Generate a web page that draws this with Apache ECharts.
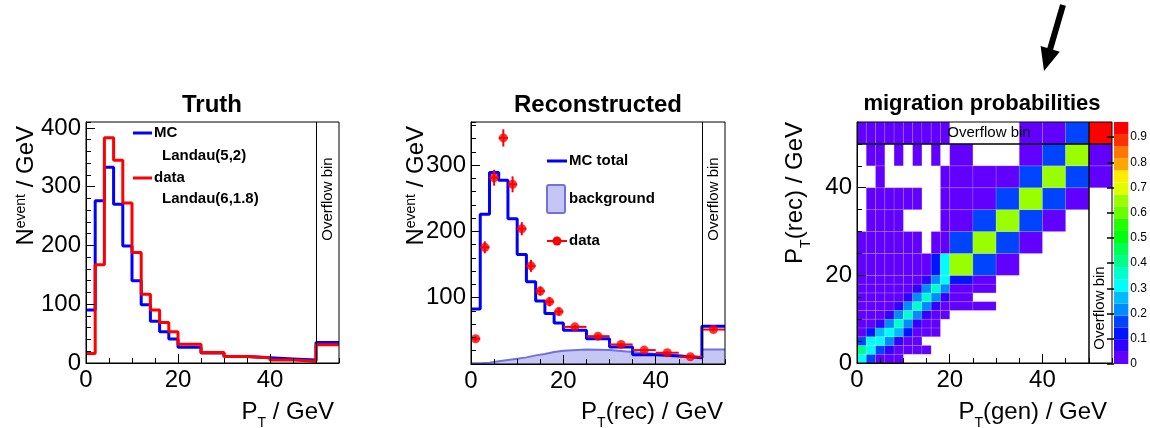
<!DOCTYPE html>
<html>
<head>
<meta charset="utf-8">
<script src="https://cdn.jsdelivr.net/npm/echarts@6/dist/echarts.min.js"></script>
<style>
html, body { margin: 0; padding: 0; background: #fff; }
#main { width: 1150px; height: 428px; }
</style>
</head>
<body>
<div id="main"></div>
<script>
// bin edges in GeV, last bin (50-55) is the overflow bin
var edges = [0, 2, 4, 6, 8, 10, 12, 14, 16, 18, 20, 25, 30, 35, 40, 45, 50, 55];

// Truth panel
var truthMC   = [90, 276, 333, 270, 199, 140, 99, 71, 53, 41, 27, 17, 11, 9, 7, 5, 35];
var truthData = [16, 167, 383, 345, 272, 188, 117, 90, 69, 53, 32, 18, 11, 9, 5, 3, 31];

// Reconstructed panel
var recoMC   = [83, 226, 289, 277, 219, 165, 124, 95, 76, 62, 51, 38, 25.5, 14, 12, 9.5, 57];
var recoBkg  = [1, 2, 4, 6, 8, 10, 13, 15, 18, 20, 22, 21, 18, 15, 13, 10, 22];
var recoData = [38, 176, 281, 341, 271, 204, 148, 110, 94, 79, 56, 42, 29.5, 21, 17, 11, 52];
var recoErr  = [4, 9, 12, 13, 12, 10, 9, 7, 7, 6, 3, 3, 2.5, 2, 2, 1.5, 3];

// migration probabilities, rows = rec bin, columns = gen bin (null = empty)
var N = null;
var migration = [
  [0.31, 0.17, 0.02, 0.02, 0.02, N, N, N, N, N, N, N, N, N, N, N, N],
  [0.41, 0.31, 0.17, 0.08, 0.02, 0.02, 0.02, 0.02, N, N, N, N, N, N, N, N, N],
  [0.19, 0.33, 0.31, 0.22, 0.07, 0.02, 0.02, N, N, N, N, N, N, N, N, N, N],
  [0.02, 0.12, 0.24, 0.33, 0.24, 0.10, 0.02, 0.02, 0.02, N, N, N, N, N, N, N, N],
  [0.02, 0.02, 0.07, 0.22, 0.34, 0.22, 0.08, 0.02, 0.02, N, N, N, N, N, N, N, N],
  [0.02, 0.02, 0.02, 0.07, 0.22, 0.34, 0.22, 0.08, 0.02, 0.02, N, N, N, N, N, N, N],
  [0.02, 0.02, 0.02, 0.02, 0.07, 0.22, 0.34, 0.22, 0.08, 0.02, 0.02, 0.02, N, N, N, N, N],
  [0.02, 0.02, 0.02, 0.02, 0.02, 0.07, 0.22, 0.34, 0.22, 0.08, 0.02, N, N, N, N, N, N],
  [0.02, 0.02, 0.02, 0.02, 0.02, 0.02, 0.07, 0.22, 0.34, 0.22, 0.02, 0.02, N, N, N, N, N],
  [0.02, 0.02, 0.02, 0.02, 0.02, 0.02, 0.02, 0.08, 0.22, 0.31, 0.12, 0.02, N, N, N, N, N],
  [0.02, 0.02, 0.02, 0.02, 0.02, 0.02, 0.02, 0.02, 0.10, 0.31, 0.65, 0.17, 0.02, N, N, N, N],
  [0.02, 0.02, 0.02, 0.02, 0.02, 0.02, 0.02, N, 0.02, 0.02, 0.17, 0.65, 0.17, 0.02, N, N, N],
  [N, 0.02, 0.02, 0.02, 0.02, N, N, N, N, 0.02, 0.02, 0.17, 0.65, 0.17, 0.02, N, N],
  [N, 0.02, 0.02, 0.02, 0.02, 0.02, 0.02, N, N, 0.02, 0.02, 0.02, 0.17, 0.65, 0.17, 0.02, N],
  [N, N, 0.02, N, N, N, N, N, N, 0.02, 0.02, 0.02, 0.02, 0.17, 0.65, 0.17, 0.02],
  [N, 0.02, 0.02, N, 0.02, N, 0.02, N, 0.02, N, 0.02, N, N, 0.02, 0.17, 0.65, 0.02],
  [0.02, 0.02, 0.02, 0.02, 0.02, 0.02, 0.02, 0.02, 0.02, 0.02, N, N, N, 0.02, 0.02, 0.17, 0.94]
];

// ROOT style rainbow palette, 20 contour levels
var palette = ['#6200ff', '#3300ff', '#0014ff', '#0044ff', '#008bff', '#00bbff', '#00fffc',
  '#00ffcc', '#00ff85', '#00ff55', '#00ff0e', '#22ff00', '#69ff00', '#99ff00', '#e0ff00',
  '#ffee00', '#ffa700', '#ff7700', '#ff3000', '#ff0000'];
var zMax = 0.96;

var FONT = '"Liberation Sans", Arial, Helvetica, sans-serif';
var BLUE = '#0000ff', RED = '#ff0000';

var myChart = echarts.init(document.getElementById('main'));

function stepData(vals) {
  var d = [];
  for (var i = 0; i < vals.length; i++) d.push([edges[i], vals[i]]);
  d.push([edges[edges.length - 1], vals[vals.length - 1]]);
  return d;
}

function mainAxis(grid, pos, min, max, interval, hideMin) {
  return {
    type: 'value', gridIndex: grid, position: pos, min: min, max: max, interval: interval, z: 10,
    axisLine: { show: true, onZero: false, lineStyle: { color: '#000', width: 1 } },
    axisTick: { show: true, inside: true, length: 9, lineStyle: { color: '#000', width: 1 } },
    axisLabel: { color: '#000', fontFamily: FONT, fontSize: 24, margin: 5, showMaxLabel: false,
      showMinLabel: !hideMin },
    splitLine: { show: false }
  };
}
function minorAxis(grid, pos, min, max, interval) {
  return {
    type: 'value', gridIndex: grid, position: pos, min: min, max: max, interval: interval, z: 10,
    axisLine: { show: false },
    axisTick: { show: true, inside: true, length: 5, lineStyle: { color: '#000', width: 1 } },
    axisLabel: { show: false },
    splitLine: { show: false }
  };
}

var overflowLine = {
  silent: true, symbol: 'none', label: { show: false }, animation: false,
  lineStyle: { color: '#000', width: 1, type: 'solid' },
  data: [{ xAxis: 50 }]
};

// heatmap cells
var heatData = [];
for (var r = 0; r < migration.length; r++) {
  for (var c = 0; c < migration[r].length; c++) {
    if (migration[r][c] === null) continue;
    heatData.push([edges[c], edges[c + 1], edges[r], edges[r + 1], migration[r][c]]);
  }
}
// colour bar bands
var levelStep = zMax / palette.length;
var barData = [];
var pieces = [];
for (var j = 0; j < palette.length; j++) {
  barData.push([0, 1, j * levelStep, (j + 1) * levelStep, (j + 0.5) * levelStep]);
  var p = { gte: j * levelStep, color: palette[j] };
  if (j < palette.length - 1) p.lt = (j + 1) * levelStep;
  pieces.push(p);
}

var recoPoints = [], recoBars = [];
for (var i = 0; i < recoData.length; i++) {
  var xc = (edges[i] + edges[i + 1]) / 2;
  recoPoints.push([xc, recoData[i]]);
  recoBars.push([edges[i], edges[i + 1], recoData[i], recoErr[i]]);
}

function renderCell(stroke) {
  return function (params, api) {
    var p0 = api.coord([api.value(0), api.value(2)]);
    var p1 = api.coord([api.value(1), api.value(3)]);
    return {
      type: 'rect',
      shape: { x: p0[0], y: p1[1], width: p1[0] - p0[0], height: p0[1] - p1[1] },
      style: { fill: api.visual('color'), stroke: stroke, lineWidth: stroke ? 0.6 : 0 }
    };
  };
}

function renderErr(params, api) {
  var xlo = api.value(0), xhi = api.value(1), y = api.value(2), e = api.value(3);
  var xc = (xlo + xhi) / 2;
  var a = api.coord([xlo, y]), b = api.coord([xhi, y]);
  var t = api.coord([xc, y + e]), s = api.coord([xc, y - e]);
  return {
    type: 'group',
    children: [
      { type: 'line', shape: { x1: a[0], y1: a[1], x2: b[0], y2: b[1] }, style: { stroke: RED, lineWidth: 2 } },
      { type: 'line', shape: { x1: t[0], y1: t[1], x2: s[0], y2: s[1] }, style: { stroke: RED, lineWidth: 2 } }
    ]
  };
}

function txt(x, y, text, size, opts) {
  var el = {
    type: 'text', x: x, y: y, z: 20,
    style: { text: text, fill: '#000', fontFamily: FONT, fontSize: size, align: 'left', verticalAlign: 'middle' }
  };
  for (var k in opts) el.style[k] = opts[k];
  return el;
}
function rotTxt(x, y, text, size, opts) {
  var el = txt(x, y, text, size, opts);
  el.rotation = Math.PI / 2;
  return el;
}
// subscript: main text sits on top of the line box, the small T at the bottom of a taller one
var richSub = {
  m: { fontFamily: FONT, fontSize: 24, lineHeight: 24, verticalAlign: 'top', fill: '#000' },
  s: { fontFamily: FONT, fontSize: 14, lineHeight: 30, verticalAlign: 'bottom', fill: '#000' }
};
var richSup = {
  m: { fontFamily: FONT, fontSize: 24, lineHeight: 24, verticalAlign: 'bottom', fill: '#000' },
  s: { fontFamily: FONT, fontSize: 14, lineHeight: 10, verticalAlign: 'top', fill: '#000' }
};

var legendBold = { fontWeight: 'bold' };

var option = {
  animation: false,
  backgroundColor: '#fff',
  grid: [
    { left: 86, top: 122, width: 253, height: 241, show: true, borderColor: '#000', borderWidth: 1, z: 10 },
    { left: 471, top: 122, width: 254, height: 242, show: true, borderColor: '#000', borderWidth: 1, z: 10 },
    { left: 857, top: 122, width: 255, height: 241, show: true, borderColor: '#000', borderWidth: 1, z: 10 },
    { left: 1114, top: 122, width: 17, height: 242, show: false }
  ],
  xAxis: [
    mainAxis(0, 'bottom', 0, 55, 20),
    minorAxis(0, 'bottom', 0, 55, 5),
    mainAxis(1, 'bottom', 0, 55, 20),
    minorAxis(1, 'bottom', 0, 55, 5),
    mainAxis(2, 'bottom', 0, 55, 20),
    minorAxis(2, 'bottom', 0, 55, 5),
    { type: 'value', gridIndex: 3, min: 0, max: 1, show: false }
  ],
  yAxis: [
    mainAxis(0, 'left', 0, 410, 100),
    minorAxis(0, 'left', 0, 410, 20),
    mainAxis(1, 'left', 0, 365, 100, true),
    minorAxis(1, 'left', 0, 365, 20),
    mainAxis(2, 'left', 0, 55, 20),
    minorAxis(2, 'left', 0, 55, 5),
    {
      type: 'value', gridIndex: 3, position: 'right', min: 0, max: zMax, interval: 0.1, z: 10,
      axisLine: { show: false },
      axisTick: { show: true, inside: true, length: 7, lineStyle: { color: '#000', width: 1.5 } },
      axisLabel: {
        color: '#000', fontFamily: FONT, fontSize: 12, margin: 2, showMaxLabel: false,
        formatter: function (v) { return String(Math.round(v * 10) / 10); }
      },
      splitLine: { show: false }
    }
  ],
  visualMap: {
    type: 'piecewise', show: false, dimension: 4, seriesIndex: [7, 9], pieces: pieces
  },
  series: [
    { type: 'line', name: 'MC', xAxisIndex: 0, yAxisIndex: 0, step: 'end', showSymbol: false, symbol: 'none',
      data: stepData(truthMC), lineStyle: { color: BLUE, width: 3 }, itemStyle: { color: BLUE } },
    { type: 'line', name: 'data', xAxisIndex: 0, yAxisIndex: 0, step: 'end', showSymbol: false, symbol: 'none',
      data: stepData(truthData), lineStyle: { color: RED, width: 3 }, itemStyle: { color: RED },
      markLine: overflowLine },
    { type: 'line', name: 'background', xAxisIndex: 2, yAxisIndex: 2, step: 'end', showSymbol: false, symbol: 'none',
      data: stepData(recoBkg), lineStyle: { color: '#7272dc', width: 2 },
      areaStyle: { color: '#c6c6f5', opacity: 1 }, itemStyle: { color: '#7272dc' } },
    { type: 'line', name: 'MC total', xAxisIndex: 2, yAxisIndex: 2, step: 'end', showSymbol: false, symbol: 'none',
      data: stepData(recoMC), lineStyle: { color: BLUE, width: 3 }, itemStyle: { color: BLUE },
      markLine: overflowLine },
    { type: 'custom', name: 'data err', xAxisIndex: 2, yAxisIndex: 2, renderItem: renderErr,
      data: recoBars, encode: { x: [0, 1], y: 2 }, z: 4 },
    { type: 'scatter', name: 'data', xAxisIndex: 2, yAxisIndex: 2, symbol: 'circle', symbolSize: 9,
      data: recoPoints, itemStyle: { color: RED }, z: 5 },
    { type: 'line', name: 'frame', xAxisIndex: 4, yAxisIndex: 4, data: [], showSymbol: false,
      markLine: {
        silent: true, symbol: 'none', label: { show: false },
        lineStyle: { color: '#000', width: 1.5, type: 'solid' },
        data: [{ xAxis: 50 }, { yAxis: 50 }]
      }, z: 6 },
    { type: 'custom', name: 'migration', xAxisIndex: 4, yAxisIndex: 4, renderItem: renderCell('rgba(255,255,255,0.22)'),
      data: heatData, encode: { x: [0, 1], y: [2, 3] }, dimensions: ['x0', 'x1', 'y0', 'y1', 'p'], z: 2 },
    { type: 'line', name: 'spacer', xAxisIndex: 6, yAxisIndex: 6, data: [] },
    { type: 'custom', name: 'palette', xAxisIndex: 6, yAxisIndex: 6, renderItem: renderCell(null),
      data: barData, encode: { x: [0, 1], y: [2, 3] }, dimensions: ['x0', 'x1', 'y0', 'y1', 'p'], z: 2 }
  ],
  graphic: [
    // panel titles
    txt(212, 105, 'Truth', 24, { align: 'center', fontWeight: 'bold' }),
    txt(598, 105, 'Reconstructed', 24, { align: 'center', fontWeight: 'bold' }),
    txt(982, 104, 'migration probabilities', 22, { align: 'center', fontWeight: 'bold' }),

    // axis titles
    txt(334, 400, '{m|P}{s|T}{m| / GeV}', 24, { align: 'right', verticalAlign: 'top', rich: richSub }),
    txt(723, 400, '{m|P}{s|T}{m|(rec) / GeV}', 24, { align: 'right', verticalAlign: 'top', rich: richSub }),
    txt(1107, 400, '{m|P}{s|T}{m|(gen) / GeV}', 24, { align: 'right', verticalAlign: 'top', rich: richSub }),
    rotTxt(14, 126, '{m|N}{s|event}{m| / GeV}', 24, { align: 'right', verticalAlign: 'top', rich: richSup }),
    rotTxt(404, 126, '{m|N}{s|event}{m| / GeV}', 24, { align: 'right', verticalAlign: 'top', rich: richSup }),
    rotTxt(783, 122, '{m|P}{s|T}{m|(rec) / GeV}', 24, { align: 'right', verticalAlign: 'top', rich: richSub }),

    // overflow labels
    rotTxt(328, 199, 'Overflow bin', 15, { align: 'center' }),
    rotTxt(714, 199, 'Overflow bin', 15, { align: 'center' }),
    rotTxt(1100, 308, 'Overflow bin', 15, { align: 'center' }),
    txt(989, 133, 'Overflow bin', 15, { align: 'center' }),

    // Truth legend
    { type: 'line', z: 20, shape: { x1: 133, y1: 133, x2: 152, y2: 133 }, style: { stroke: BLUE, lineWidth: 3 } },
    txt(154, 133, 'MC', 15, legendBold),
    txt(162, 156, 'Landau(5,2)', 15, legendBold),
    { type: 'line', z: 20, shape: { x1: 133, y1: 178, x2: 152, y2: 178 }, style: { stroke: RED, lineWidth: 3 } },
    txt(154, 178, 'data', 15, legendBold),
    txt(162, 199, 'Landau(6,1.8)', 15, legendBold),

    // Reconstructed legend
    { type: 'line', z: 20, shape: { x1: 547, y1: 161, x2: 567, y2: 161 }, style: { stroke: BLUE, lineWidth: 3 } },
    txt(569, 161, 'MC total', 15, legendBold),
    { type: 'rect', z: 20, shape: { x: 547, y: 185, width: 18, height: 28, r: 2 },
      style: { fill: '#c6c6f5', stroke: '#7272dc', lineWidth: 2 } },
    txt(569, 199, 'background', 15, legendBold),
    { type: 'line', z: 20, shape: { x1: 547, y1: 241, x2: 567, y2: 241 }, style: { stroke: RED, lineWidth: 2 } },
    { type: 'circle', z: 20, shape: { cx: 557, cy: 241, r: 4.5 }, style: { fill: RED } },
    txt(569, 241, 'data', 15, legendBold),

    // arrow pointing at the colour scale
    { type: 'polygon', z: 20,
      shape: { points: [[1065.9, 5.8], [1053.1, 49.7], [1059.8, 51.7], [1044, 71], [1040.6, 46.1], [1047.3, 48.1], [1060.1, 4.2]] },
      style: { fill: '#000' } }
  ]
};

myChart.setOption(option);
</script>
</body>
</html>
